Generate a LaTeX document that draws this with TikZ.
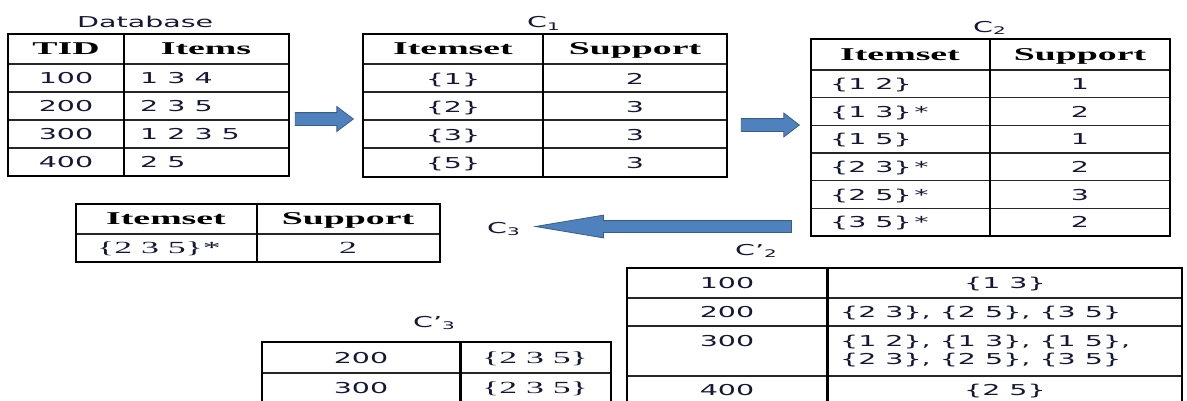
\documentclass[tikz,border=0pt]{standalone}
\usepackage{fontspec}
\setmainfont{DejaVu Sans}[FakeStretch=1.9]
\newfontfamily\headfont{Liberation Serif}[FakeStretch=2.1]
\usetikzlibrary{shapes.arrows}

\definecolor{arrowfill}{RGB}{79,129,189}
\definecolor{arrowline}{RGB}{56,93,138}
\definecolor{ink}{RGB}{22,22,55}

\tikzset{
    tablebox/.style={line width=2.6pt},
    gridline/.style={line width=1.2pt, black!85},
    colsplit/.style={line width=2pt},
    headtext/.style={font=\fontsize{18}{18}\headfont\bfseries, anchor=base, inner sep=0pt},
    celltext/.style={font=\fontsize{15}{15}\selectfont, text=ink, anchor=base, inner sep=0pt},
    sertext/.style={font=\fontsize{17}{17}\headfont, text=ink, anchor=base, inner sep=0pt},
    tablelabel/.style={font=\fontsize{15}{15}\selectfont, text=ink, anchor=base west, inner sep=0pt},
    blockarrow/.style={single arrow, fill=arrowfill, draw=arrowline, line width=0.8pt, inner xsep=0pt, anchor=tip}
}

\begin{document}
\begin{tikzpicture}[x=1pt,y=-1pt]
    \useasboundingbox (0,0) rectangle (1187,400);

    % database
    \node[tablelabel] (dblabel) at (77,27) {Database};
    \draw[gridline] \foreach \y in {64,92,120,148} {(8,\y) -- (289,\y)};
    \draw[colsplit] (124,34) -- (124,176);
    \draw[tablebox] (8,34) rectangle (289,176);
    \node[headtext] (dbh1) at (66,54.6) {TID};
    \node[headtext] (dbh2) at (206,54.6) {Items};
    \foreach \tid/\its [count=\i] in {100/1 3 4,200/2 3 5,300/1 2 3 5,400/2 5}{%
        \node[celltext] (dbt\i) at (66,55.5+28*\i) {\tid};
        \node[celltext, anchor=base west] (dbs\i) at (140,55.5+28*\i) {\its};
    }

    \node[blockarrow, minimum height=58pt, inner ysep=6pt, single arrow head extend=6pt,
          single arrow tip angle=74] (arr1) at (354,119) {};

    % C1
    \node[tablelabel] (c1label) at (527,27.5) {C\textsubscript{1}};
    \draw[gridline] \foreach \y in {64,92,120,148} {(363,\y) -- (727,\y)};
    \draw[colsplit] (543,34) -- (543,177);
    \draw[tablebox] (363,34) rectangle (727,177);
    \node[headtext] (c1h1) at (453,54.6) {Itemset};
    \node[headtext] (c1h2) at (635,54.6) {Support};
    \foreach \its/\cnt [count=\i] in {1/2,2/3,3/3,5/3}{%
        \node[celltext] (c1s\i) at (453,56+28*\i) {\{\its\}};
        \node[celltext] (c1n\i) at (635,56+28*\i) {\cnt};
    }

    \node[blockarrow, minimum height=58pt, inner ysep=6pt, single arrow head extend=5.5pt,
          single arrow tip angle=75] (arr2) at (800,125) {};

    % C2
    \node[tablelabel] (c2label) at (973,32) {C\textsubscript{2}};
    \draw[gridline] \foreach \y in {70,97.7,125.3,153,180.7,208.3} {(811,\y) -- (1170,\y)};
    \draw[colsplit] (990,39) -- (990,236);
    \draw[tablebox] (811,39) rectangle (1170,236);
    \node[headtext] (c2h1) at (900,60) {Itemset};
    \node[headtext] (c2h2) at (1080,60) {Support};
    \foreach \its/\cnt [count=\i] in {\{1 2\}/1,\{1 3\}\,*/2,\{1 5\}/1,\{2 3\}\,*/2,\{2 5\}\,*/3,\{3 5\}\,*/2}{%
        \node[celltext, anchor=base west] (c2s\i) at (830,61.7+27.67*\i) {\its};
        \node[celltext] (c2n\i) at (1080,61.7+27.67*\i) {\cnt};
    }

    \node[blockarrow, shape border rotate=180, minimum height=256pt, inner ysep=5.5pt,
          single arrow head extend=5.5pt, single arrow tip angle=19] (arr3) at (533,226.5) {};
    \node[tablelabel] (c3label) at (487,233) {C\textsubscript{3}};

    % L3
    \draw[gridline] (76,234) -- (440,234);
    \draw[colsplit] (257,204) -- (257,262);
    \draw[tablebox] (76,204) rectangle (440,262);
    \node[headtext] (l3h1) at (166,224.6) {Itemset};
    \node[headtext] (l3h2) at (348,224.6) {Support};
    \node[sertext, anchor=base west] (l3s1) at (97,253.5) {\{2 3 5\}*};
    \node[sertext] (l3n1) at (348,253.5) {2};

    % C'2
    \node[tablelabel] (cp2label) at (735,255) {C’\textsubscript{2}};
    \draw[gridline] \foreach \y in {298,326,376} {(627,\y) -- (1182,\y)};
    \draw[colsplit, line width=3pt] (827,268) -- (827,405);
    \draw[tablebox] (627,268) rectangle (1182,405);
    \foreach \tid/\y [count=\i] in {100/288.5,200/317.5,300/346.5,400/395.5}{%
        \node[celltext] (cp2t\i) at (727,\y) {\tid};
    }
    \node[celltext] (cp2s1) at (1005,288.5) {\{1 3\}};
    \node[celltext, anchor=base west] (cp2s2) at (840,317.5) {\{2 3\}, \{2 5\}, \{3 5\}};
    \node[celltext, anchor=base west] (cp2s3) at (840,346.5) {\{1 2\}, \{1 3\}, \{1 5\},};
    \node[celltext, anchor=base west] (cp2s3b) at (840,364.5) {\{2 3\}, \{2 5\}, \{3 5\}};
    \node[celltext] (cp2s4) at (1005,395.5) {\{2 5\}};

    % C'3
    \node[tablelabel] (cp3label) at (413,327) {C’\textsubscript{3}};
    \draw[gridline] (262,373) -- (611,373);
    \draw[colsplit, line width=3pt] (460,342) -- (460,405);
    \draw[tablebox] (262,342) rectangle (611,405);
    \foreach \tid/\y [count=\i] in {200/363.5,300/393}{%
        \node[celltext] (cp3t\i) at (361,\y) {\tid};
        \node[sertext] (cp3s\i) at (535,\y) {\{2 3 5\}};
    }
\end{tikzpicture}
\end{document}
